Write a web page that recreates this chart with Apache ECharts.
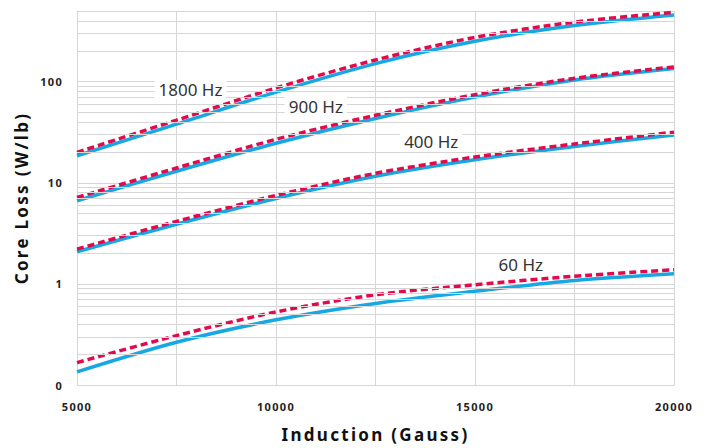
<html>
<head>
<meta charset="utf-8">
<title>Core loss vs induction</title>
<script src="https://cdn.jsdelivr.net/npm/echarts@6/dist/echarts.min.js"></script>
<style>
  body { margin: 0; background: #fff; }
  #main { width: 711px; height: 448px; }
  /* axis names and tick labels are tracked out in the original */
  #main svg text[style*="bold"][style*="17px"] { letter-spacing: 2.3px; }
  #main svg text[style*="bold"][style*="11px"] { letter-spacing: 1.3px; }
</style>
<script type="text/javascript">

  // induction (Gauss)
  var induction = [5000, 7500, 10000, 12500, 15000, 17500, 20000];

  // core loss (W/lb) - solid blue and dashed red per frequency
  var solid1800 = [18.5, 38.0, 78.7, 151, 251, 359, 457];
  var dash1800  = [20.0, 41.6, 86.7, 164, 274, 388, 486];
  var solid900  = [6.64, 13.0, 24.6, 43.2, 70.3, 104, 135];
  var dash900   = [7.15, 14.0, 26.9, 46.5, 74.5, 108, 140];
  var solid400  = [2.08, 3.89, 7.0, 11.6, 16.9, 22.9, 29.7];
  var dash400   = [2.21, 4.15, 7.5, 12.4, 18.0, 24.2, 31.7];
  var solid60   = [0.135, 0.265, 0.441, 0.641, 0.845, 1.08, 1.26];
  var dash60    = [0.1665, 0.308, 0.528, 0.78, 0.98, 1.19, 1.38];

  // curve labels: [name, induction, loss]
  var curveLabels = [
    ['1800 Hz', 7850, 83],
    ['900 Hz', 11000, 57],
    ['400 Hz', 13900, 25.6],
    ['60 Hz', 16150, 1.54]
  ];

  // log minor grid lines
  var minorLines = [0.2, 0.3, 0.4, 0.5, 0.6, 0.7, 0.8, 0.9,
                    2, 3, 4, 5, 6, 7, 8, 9,
                    20, 30, 40, 50, 60, 70, 80, 90,
                    200, 300, 400];

  const BLUE = '#17a8e3';
  const RED = '#e20a4c';
  const GRID = '#d6d6d6';

  function pairs(vals) {
    return induction.map((x, i) => [x, vals[i]]);
  }

  function solidSeries(vals) {
    return { type: 'line', data: pairs(vals), smooth: 0.3, showSymbol: false,
             z: 3, lineStyle: { color: BLUE, width: 3.5 } };
  }

  function dashSeries(vals, label) {
    let s = { type: 'line', data: pairs(vals), smooth: 0.3, showSymbol: false,
              z: 4, lineStyle: { color: RED, width: 3.5, type: [7, 4] } };
    if (label) {
      s.markPoint = {
        symbol: 'circle', symbolSize: 1, itemStyle: { color: 'rgba(0,0,0,0)' },
        label: { show: true, position: 'inside', formatter: '{b}',
                 color: '#333', fontSize: 17, fontFamily: 'Noto Sans',
                 backgroundColor: '#fff', padding: [1, 4] },
        data: [{ name: label[0], coord: [label[1], label[2]] }]
      };
    }
    return s;
  }

  function init() {
    let chart = echarts.init(document.getElementById('main'), null, { renderer: 'svg' });
    let option = {
      animation: false,
      grid: { left: 77, right: 37, top: 11, bottom: 58 },
      xAxis: {
        type: 'value', min: 5000, max: 20000, interval: 2500,
        name: 'Induction (Gauss)', nameLocation: 'middle', nameGap: 41,
        nameTextStyle: { fontSize: 17, fontWeight: 'bold', color: '#111', fontFamily: 'Noto Sans' },
        axisLine: { lineStyle: { color: GRID } },
        axisTick: { show: false },
        axisLabel: { margin: 16, fontSize: 11, fontWeight: 'bold', color: '#222', fontFamily: 'Noto Sans',
                     formatter: (v) => (v % 5000 === 0 ? String(v) : '') },
        splitLine: { lineStyle: { color: GRID } }
      },
      yAxis: {
        type: 'log', logBase: 10, min: 0.1, max: 500, splitNumber: 4,
        name: 'Core Loss (W/lb)', nameLocation: 'middle', nameGap: 47,
        nameTextStyle: { fontSize: 17, fontWeight: 'bold', color: '#111', fontFamily: 'Noto Sans' },
        axisLine: { show: true, lineStyle: { color: GRID } },
        axisTick: { show: false },
        axisLabel: { margin: 14, fontSize: 11, fontWeight: 'bold', color: '#222', fontFamily: 'Noto Sans',
                     formatter: function (v) {
                       let l = Math.log10(v);
                       if (Math.abs(l - Math.round(l)) > 1e-6) return '';
                       return v < 1 ? '0' : String(Math.round(v));
                     } },
        splitLine: { lineStyle: { color: GRID } }
      },
      series: [
        { type: 'line', data: [], z: 1,
          markLine: { silent: true, symbol: ['none', 'none'], label: { show: false },
                      lineStyle: { color: GRID, width: 1, type: 'solid' },
                      data: minorLines.map((v) => ({ yAxis: v })) } },
        solidSeries(solid1800), dashSeries(dash1800, curveLabels[0]),
        solidSeries(solid900),  dashSeries(dash900, curveLabels[1]),
        solidSeries(solid400),  dashSeries(dash400, curveLabels[2]),
        solidSeries(solid60),   dashSeries(dash60, curveLabels[3])
      ]
    };
    chart.setOption(option);
  }
</script>
</head>
<body onload="init();">
  <div id="main"></div>
</body>
</html>
